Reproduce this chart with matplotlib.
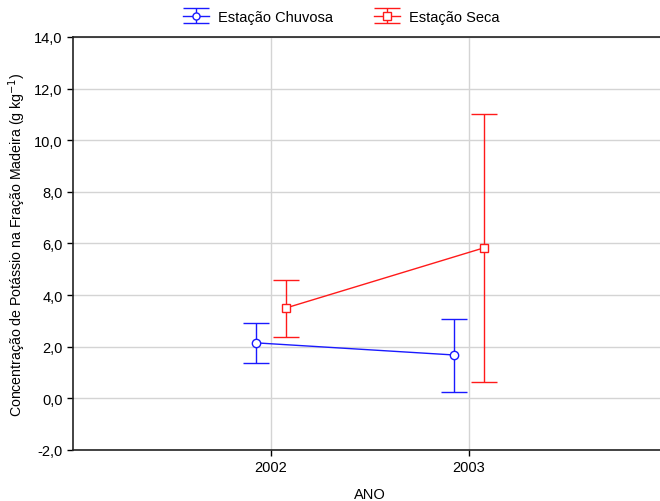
import matplotlib.pyplot as plt
import numpy as np

plt.rcParams['font.family'] = ['Liberation Sans', 'DejaVu Sans']

anos = [2002, 2003]
chuvosa_media = [2.15, 1.68]
chuvosa_sup = [2.93, 3.08]
chuvosa_inf = [1.37, 0.25]
seca_media = [3.50, 5.83]
seca_sup = [4.59, 11.02]
seca_inf = [2.38, 0.64]

fig = plt.figure(figsize=(6.6, 5.02), dpi=100)
ax = fig.add_axes([0.1106, 0.1016, 0.9, 0.8228])

x = np.array(anos, dtype=float)
desloc = 0.075

ch_m = np.array(chuvosa_media)
ch_err = [ch_m - np.array(chuvosa_inf), np.array(chuvosa_sup) - ch_m]
se_m = np.array(seca_media)
se_err = [se_m - np.array(seca_inf), np.array(seca_sup) - se_m]

ax.errorbar(x - desloc, ch_m, yerr=ch_err, color='#1a1aff', marker='o',
            mfc='white', mec='#1a1aff', ms=6, lw=1, elinewidth=1,
            capsize=9.5, capthick=1, label='Estação Chuvosa', zorder=3)
ax.errorbar(x + desloc, se_m, yerr=se_err, color='#ff1a1a', marker='s',
            mfc='white', mec='#ff1a1a', ms=6, lw=1, elinewidth=1,
            capsize=9.5, capthick=1, label='Estação Seca', zorder=3)

ax.set_xlim(2001, 2004)
ax.set_ylim(-2, 14)
ax.set_xticks(anos)
ax.set_xticklabels([str(a) for a in anos])
yt = np.arange(-2, 15, 2)
ax.set_yticks(yt)
ax.set_yticklabels([f'{v:.1f}'.replace('.', ',') for v in yt])
ax.tick_params(labelsize=10.5, length=4, width=1, direction='out')
ax.grid(True, color='#d4d4d4', lw=1)
ax.set_axisbelow(True)

for s in ['top', 'bottom', 'left']:
    ax.spines[s].set_linewidth(1.2)
    ax.spines[s].set_color('#222222')
ax.spines['right'].set_visible(False)

ax.set_xlabel('ANO', fontsize=10.5, labelpad=9)
ax.set_ylabel('Concentração de Potássio na Fração Madeira (g kg$^{-1}$)',
              fontsize=10.2, labelpad=4)

fig.legend(loc='upper center', bbox_to_anchor=(0.517, 1.005), ncol=2,
           frameon=False, fontsize=10.5, columnspacing=2.8, handlelength=1.8,
           handletextpad=0.6, markerscale=0.85)

fig.savefig('out.png', dpi=100)
